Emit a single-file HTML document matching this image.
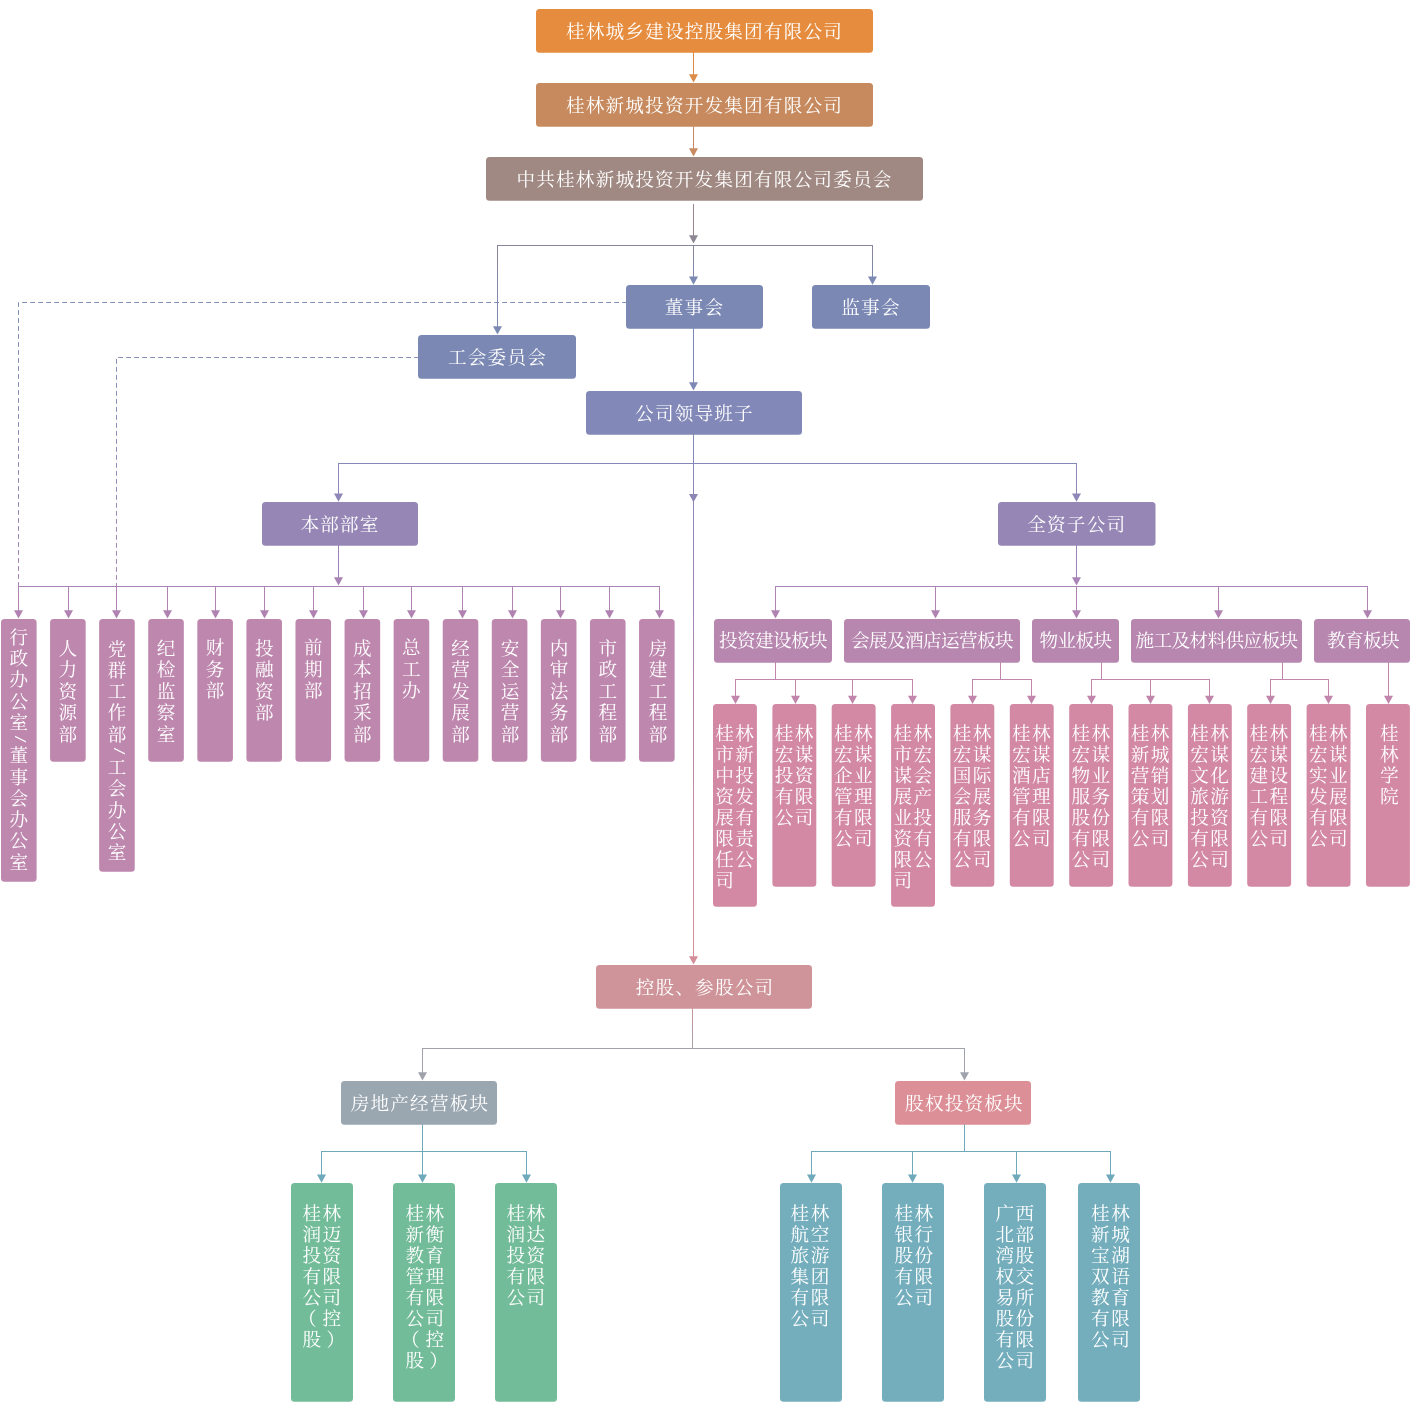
<!DOCTYPE html>
<html lang="zh-CN">
<head>
<meta charset="utf-8">
<title>组织架构</title>
<style>
html,body{margin:0;padding:0;background:#fff}
#w{position:relative;width:1410px;height:1420px;overflow:hidden;will-change:transform;font-family:"Liberation Serif","Noto Serif CJK SC",serif;color:#fff;font-weight:400}
#w svg{position:absolute;left:0;top:0}
.b{position:absolute;border-radius:3.5px;box-sizing:border-box;text-align:center;white-space:nowrap;overflow:hidden}
.h{font-size:18.6px;letter-spacing:1.2px;line-height:46px}
.c{font-size:18.6px;letter-spacing:-0.6px;line-height:44px}
.d{font-size:18.6px;line-height:21.5px;white-space:normal;padding:18.8px 8.3px 0 8.3px}
.d0{padding-top:7.9px;line-height:21.25px}
.d2{line-height:21.3px;padding-top:19.5px}
.d3{line-height:21.2px;padding-top:18.4px}
.d4{padding-top:18.5px}
.sl{display:block;height:12.2px;line-height:12.2px;font-family:"Liberation Mono",monospace;font-size:13.8px;transform:rotate(90deg);position:relative;left:-0.9px}
.p{font-size:18.6px;letter-spacing:1.4px;line-height:20.95px;white-space:normal;word-break:break-all;padding:20.3px 0 0 2.3px;text-align:left}
.p1{padding-left:14px;padding-right:10px}
.pl{position:relative;left:-4.5px}
.pr{position:relative;left:4px}
.g{font-size:18.6px;letter-spacing:1.5px;line-height:20.95px;white-space:normal;word-break:break-all;padding:21.3px 9.6px 0 11.4px;text-align:left}
</style>
</head>
<body>
<div id="w">
<svg width="1410" height="1420" viewBox="0 0 1410 1420" fill="none" stroke-width="1">
<defs><linearGradient id="gc" gradientUnits="userSpaceOnUse" x1="0" y1="463" x2="0" y2="960"><stop offset="0" stop-color="#8589B8"/><stop offset="0.08" stop-color="#8E86B6"/><stop offset="0.3" stop-color="#A483B4"/><stop offset="0.62" stop-color="#BF87A8"/><stop offset="1" stop-color="#DA8F97"/></linearGradient><linearGradient id="g2" gradientUnits="userSpaceOnUse" x1="0" y1="245" x2="0" y2="285"><stop offset="0" stop-color="#8A8598"/><stop offset="1" stop-color="#7A8BB5"/></linearGradient><linearGradient id="g3" gradientUnits="userSpaceOnUse" x1="0" y1="245" x2="0" y2="335"><stop offset="0" stop-color="#8A8598"/><stop offset="1" stop-color="#7A8BB5"/></linearGradient><linearGradient id="gd" gradientUnits="userSpaceOnUse" x1="0" y1="302" x2="0" y2="586"><stop offset="0" stop-color="#7E8DB6"/><stop offset="0.5" stop-color="#8A8BB7"/><stop offset="1" stop-color="#A985B5"/></linearGradient><linearGradient id="gk" gradientUnits="userSpaceOnUse" x1="0" y1="1008" x2="0" y2="1049"><stop offset="0" stop-color="#C9969C"/><stop offset="1" stop-color="#AAA0A8"/></linearGradient></defs>
<line x1="693.5" y1="52" x2="693.5" y2="78.6" stroke="#DC8B48"/>
<polygon points="689.0,74.3 698.0,74.3 693.5,82.6" fill="#DC8B48"/>
<line x1="693.5" y1="126" x2="693.5" y2="152.6" stroke="#C98A62"/>
<polygon points="689.0,148.3 698.0,148.3 693.5,156.6" fill="#C98A62"/>
<line x1="693.5" y1="204" x2="693.5" y2="240" stroke="#9B878A"/>
<polygon points="689.0,235.3 698.0,235.3 693.5,243.6" fill="#8F8796"/>
<line x1="497" y1="245.5" x2="873" y2="245.5" stroke="#8A8699"/>
<line x1="693.5" y1="245.5" x2="693.5" y2="280" stroke="url(#g2)"/>
<polygon points="689.0,276.5 698.0,276.5 693.5,284.8" fill="#7C8AB3"/>
<line x1="872.5" y1="245.5" x2="872.5" y2="280" stroke="url(#g2)"/>
<polygon points="868.0,276.5 877.0,276.5 872.5,284.8" fill="#7C8AB3"/>
<line x1="497.5" y1="245.5" x2="497.5" y2="330" stroke="url(#g3)"/>
<polygon points="493.0,326.2 502.0,326.2 497.5,334.5" fill="#7C8AB3"/>
<polyline points="627,302.5 18.5,302.5 18.5,586" stroke="url(#gd)" stroke-dasharray="4.8 3.2"/>
<polyline points="419,357.5 116.5,357.5 116.5,586" stroke="url(#gd)" stroke-dasharray="4.8 3.2"/>
<line x1="693.5" y1="328" x2="693.5" y2="386.6" stroke="#7F89B5"/>
<polygon points="689.0,382.3 698.0,382.3 693.5,390.6" fill="#7F89B5"/>
<line x1="693.5" y1="434" x2="693.5" y2="463.5" stroke="#8589B8"/>
<line x1="338" y1="463.5" x2="1077" y2="463.5" stroke="#8589B8"/>
<line x1="338.5" y1="463.5" x2="338.5" y2="497.8" stroke="#8E87B8"/>
<polygon points="334.0,493.5 343.0,493.5 338.5,501.8" fill="#8E87B8"/>
<line x1="1076.5" y1="463.5" x2="1076.5" y2="497.8" stroke="#8E87B8"/>
<polygon points="1072.0,493.5 1081.0,493.5 1076.5,501.8" fill="#8E87B8"/>
<polygon points="689.0,494.1 698.0,494.1 693.5,502.3" fill="#8E85B5"/>
<line x1="693.5" y1="463" x2="693.5" y2="958" stroke="url(#gc)"/>
<polygon points="689.0,956.3 698.0,956.3 693.5,964.6" fill="#D58E98"/>
<line x1="338.5" y1="545" x2="338.5" y2="581.6" stroke="#A083B6"/>
<polygon points="334.0,577.3 343.0,577.3 338.5,585.6" fill="#A982B6"/>
<line x1="18" y1="586.5" x2="660" y2="586.5" stroke="#A982B6"/>
<line x1="18.5" y1="586.5" x2="18.5" y2="614.6" stroke="#B083B3"/>
<polygon points="14.0,610.3 23.0,610.3 18.5,618.6" fill="#B083B3"/>
<line x1="68.5" y1="586.5" x2="68.5" y2="614.6" stroke="#B083B3"/>
<polygon points="64.0,610.3 73.0,610.3 68.5,618.6" fill="#B083B3"/>
<line x1="116.5" y1="586.5" x2="116.5" y2="614.6" stroke="#B083B3"/>
<polygon points="112.0,610.3 121.0,610.3 116.5,618.6" fill="#B083B3"/>
<line x1="167.5" y1="586.5" x2="167.5" y2="614.6" stroke="#B083B3"/>
<polygon points="163.0,610.3 172.0,610.3 167.5,618.6" fill="#B083B3"/>
<line x1="215.5" y1="586.5" x2="215.5" y2="614.6" stroke="#B083B3"/>
<polygon points="211.0,610.3 220.0,610.3 215.5,618.6" fill="#B083B3"/>
<line x1="264.5" y1="586.5" x2="264.5" y2="614.6" stroke="#B083B3"/>
<polygon points="260.0,610.3 269.0,610.3 264.5,618.6" fill="#B083B3"/>
<line x1="313.5" y1="586.5" x2="313.5" y2="614.6" stroke="#B083B3"/>
<polygon points="309.0,610.3 318.0,610.3 313.5,618.6" fill="#B083B3"/>
<line x1="363.5" y1="586.5" x2="363.5" y2="614.6" stroke="#B083B3"/>
<polygon points="359.0,610.3 368.0,610.3 363.5,618.6" fill="#B083B3"/>
<line x1="411.5" y1="586.5" x2="411.5" y2="614.6" stroke="#B083B3"/>
<polygon points="407.0,610.3 416.0,610.3 411.5,618.6" fill="#B083B3"/>
<line x1="462.5" y1="586.5" x2="462.5" y2="614.6" stroke="#B083B3"/>
<polygon points="458.0,610.3 467.0,610.3 462.5,618.6" fill="#B083B3"/>
<line x1="512.5" y1="586.5" x2="512.5" y2="614.6" stroke="#B083B3"/>
<polygon points="508.0,610.3 517.0,610.3 512.5,618.6" fill="#B083B3"/>
<line x1="560.5" y1="586.5" x2="560.5" y2="614.6" stroke="#B083B3"/>
<polygon points="556.0,610.3 565.0,610.3 560.5,618.6" fill="#B083B3"/>
<line x1="609.5" y1="586.5" x2="609.5" y2="614.6" stroke="#B083B3"/>
<polygon points="605.0,610.3 614.0,610.3 609.5,618.6" fill="#B083B3"/>
<line x1="659.5" y1="586.5" x2="659.5" y2="614.6" stroke="#B083B3"/>
<polygon points="655.0,610.3 664.0,610.3 659.5,618.6" fill="#B083B3"/>
<line x1="1076.5" y1="545" x2="1076.5" y2="581.6" stroke="#A083B6"/>
<polygon points="1072.0,577.3 1081.0,577.3 1076.5,585.6" fill="#A982B6"/>
<line x1="775" y1="586.5" x2="1368" y2="586.5" stroke="#A982B6"/>
<line x1="775.5" y1="586.5" x2="775.5" y2="614.6" stroke="#B083B3"/>
<polygon points="771.0,610.3 780.0,610.3 775.5,618.6" fill="#B083B3"/>
<line x1="935.5" y1="586.5" x2="935.5" y2="614.6" stroke="#B083B3"/>
<polygon points="931.0,610.3 940.0,610.3 935.5,618.6" fill="#B083B3"/>
<line x1="1076.5" y1="586.5" x2="1076.5" y2="614.6" stroke="#B083B3"/>
<polygon points="1072.0,610.3 1081.0,610.3 1076.5,618.6" fill="#B083B3"/>
<line x1="1218.5" y1="586.5" x2="1218.5" y2="614.6" stroke="#B083B3"/>
<polygon points="1214.0,610.3 1223.0,610.3 1218.5,618.6" fill="#B083B3"/>
<line x1="1367.5" y1="586.5" x2="1367.5" y2="614.6" stroke="#B083B3"/>
<polygon points="1363.0,610.3 1372.0,610.3 1367.5,618.6" fill="#B083B3"/>
<line x1="775.5" y1="662" x2="775.5" y2="679.5" stroke="#C285AC"/>
<line x1="735.0" y1="679.5" x2="913.0" y2="679.5" stroke="#C285AC"/>
<line x1="735.5" y1="679.5" x2="735.5" y2="700" stroke="#C285AC"/>
<polygon points="731.0,695.7 740.0,695.7 735.5,704" fill="#C285AC"/>
<line x1="795.5" y1="679.5" x2="795.5" y2="700" stroke="#C285AC"/>
<polygon points="791.0,695.7 800.0,695.7 795.5,704" fill="#C285AC"/>
<line x1="852.5" y1="679.5" x2="852.5" y2="700" stroke="#C285AC"/>
<polygon points="848.0,695.7 857.0,695.7 852.5,704" fill="#C285AC"/>
<line x1="912.5" y1="679.5" x2="912.5" y2="700" stroke="#C285AC"/>
<polygon points="908.0,695.7 917.0,695.7 912.5,704" fill="#C285AC"/>
<line x1="1000.5" y1="662" x2="1000.5" y2="679.5" stroke="#C285AC"/>
<line x1="972.0" y1="679.5" x2="1032.0" y2="679.5" stroke="#C285AC"/>
<line x1="972.5" y1="679.5" x2="972.5" y2="700" stroke="#C285AC"/>
<polygon points="968.0,695.7 977.0,695.7 972.5,704" fill="#C285AC"/>
<line x1="1031.5" y1="679.5" x2="1031.5" y2="700" stroke="#C285AC"/>
<polygon points="1027.0,695.7 1036.0,695.7 1031.5,704" fill="#C285AC"/>
<line x1="1101.5" y1="662" x2="1101.5" y2="679.5" stroke="#C285AC"/>
<line x1="1091.0" y1="679.5" x2="1210.0" y2="679.5" stroke="#C285AC"/>
<line x1="1091.5" y1="679.5" x2="1091.5" y2="700" stroke="#C285AC"/>
<polygon points="1087.0,695.7 1096.0,695.7 1091.5,704" fill="#C285AC"/>
<line x1="1150.5" y1="679.5" x2="1150.5" y2="700" stroke="#C285AC"/>
<polygon points="1146.0,695.7 1155.0,695.7 1150.5,704" fill="#C285AC"/>
<line x1="1209.5" y1="679.5" x2="1209.5" y2="700" stroke="#C285AC"/>
<polygon points="1205.0,695.7 1214.0,695.7 1209.5,704" fill="#C285AC"/>
<line x1="1282.5" y1="662" x2="1282.5" y2="679.5" stroke="#C285AC"/>
<line x1="1270.0" y1="679.5" x2="1329.0" y2="679.5" stroke="#C285AC"/>
<line x1="1270.5" y1="679.5" x2="1270.5" y2="700" stroke="#C285AC"/>
<polygon points="1266.0,695.7 1275.0,695.7 1270.5,704" fill="#C285AC"/>
<line x1="1328.5" y1="679.5" x2="1328.5" y2="700" stroke="#C285AC"/>
<polygon points="1324.0,695.7 1333.0,695.7 1328.5,704" fill="#C285AC"/>
<line x1="1388.5" y1="662" x2="1388.5" y2="700" stroke="#C285AC"/>
<polygon points="1384.0,695.7 1393.0,695.7 1388.5,704" fill="#C285AC"/>
<line x1="692.5" y1="1008" x2="692.5" y2="1048.5" stroke="url(#gk)"/>
<line x1="422" y1="1048.5" x2="965" y2="1048.5" stroke="#A0A3AC"/>
<line x1="422.5" y1="1048.5" x2="422.5" y2="1076.6" stroke="#A0A3AC"/>
<polygon points="418.0,1072.3 427.0,1072.3 422.5,1080.6" fill="#A0A3AC"/>
<line x1="964.5" y1="1048.5" x2="964.5" y2="1076.6" stroke="#A0A3AC"/>
<polygon points="960.0,1072.3 969.0,1072.3 964.5,1080.6" fill="#A0A3AC"/>
<line x1="422.5" y1="1124" x2="422.5" y2="1151.5" stroke="#6FA9BC"/>
<line x1="321.0" y1="1151.5" x2="527.0" y2="1151.5" stroke="#6FA9BC"/>
<line x1="321.5" y1="1151.5" x2="321.5" y2="1178.8" stroke="#6FA9BC"/>
<polygon points="317.0,1174.5 326.0,1174.5 321.5,1182.8" fill="#6FA9BC"/>
<line x1="422.5" y1="1151.5" x2="422.5" y2="1178.8" stroke="#6FA9BC"/>
<polygon points="418.0,1174.5 427.0,1174.5 422.5,1182.8" fill="#6FA9BC"/>
<line x1="526.5" y1="1151.5" x2="526.5" y2="1178.8" stroke="#6FA9BC"/>
<polygon points="522.0,1174.5 531.0,1174.5 526.5,1182.8" fill="#6FA9BC"/>
<line x1="964.5" y1="1124" x2="964.5" y2="1151.5" stroke="#6FA9BC"/>
<line x1="811.0" y1="1151.5" x2="1111.0" y2="1151.5" stroke="#6FA9BC"/>
<line x1="811.5" y1="1151.5" x2="811.5" y2="1178.8" stroke="#6FA9BC"/>
<polygon points="807.0,1174.5 816.0,1174.5 811.5,1182.8" fill="#6FA9BC"/>
<line x1="912.5" y1="1151.5" x2="912.5" y2="1178.8" stroke="#6FA9BC"/>
<polygon points="908.0,1174.5 917.0,1174.5 912.5,1182.8" fill="#6FA9BC"/>
<line x1="1016.5" y1="1151.5" x2="1016.5" y2="1178.8" stroke="#6FA9BC"/>
<polygon points="1012.0,1174.5 1021.0,1174.5 1016.5,1182.8" fill="#6FA9BC"/>
<line x1="1110.5" y1="1151.5" x2="1110.5" y2="1178.8" stroke="#6FA9BC"/>
<polygon points="1106.0,1174.5 1115.0,1174.5 1110.5,1182.8" fill="#6FA9BC"/>
<rect x="536" y="9" width="337" height="43.8" rx="3.5" fill="#E58C3E"/>
<rect x="536" y="83" width="337" height="43.8" rx="3.5" fill="#C68A5E"/>
<rect x="486" y="157" width="437" height="43.8" rx="3.5" fill="#A08983"/>
<rect x="626" y="285" width="137" height="43.8" rx="3.5" fill="#7A88B3"/>
<rect x="812" y="285" width="118" height="43.8" rx="3.5" fill="#7A88B3"/>
<rect x="418" y="335" width="158" height="43.8" rx="3.5" fill="#7A88B3"/>
<rect x="586" y="391" width="216" height="43.8" rx="3.5" fill="#8288B7"/>
<rect x="262" y="502" width="156" height="43.8" rx="3.5" fill="#9686B6"/>
<rect x="998" y="502" width="157.5" height="43.8" rx="3.5" fill="#9686B6"/>
<rect x="1.0" y="619" width="35.6" height="262.8" rx="3.5" fill="#BE87AE"/>
<rect x="50.08" y="619" width="35.6" height="142.8" rx="3.5" fill="#BE87AE"/>
<rect x="99.16" y="619" width="35.6" height="252.8" rx="3.5" fill="#BE87AE"/>
<rect x="148.24" y="619" width="35.6" height="142.8" rx="3.5" fill="#BE87AE"/>
<rect x="197.32" y="619" width="35.6" height="142.8" rx="3.5" fill="#BE87AE"/>
<rect x="246.4" y="619" width="35.6" height="142.8" rx="3.5" fill="#BE87AE"/>
<rect x="295.48" y="619" width="35.6" height="142.8" rx="3.5" fill="#BE87AE"/>
<rect x="344.56" y="619" width="35.6" height="142.8" rx="3.5" fill="#BE87AE"/>
<rect x="393.64" y="619" width="35.6" height="142.8" rx="3.5" fill="#BE87AE"/>
<rect x="442.72" y="619" width="35.6" height="142.8" rx="3.5" fill="#BE87AE"/>
<rect x="491.8" y="619" width="35.6" height="142.8" rx="3.5" fill="#BE87AE"/>
<rect x="540.88" y="619" width="35.6" height="142.8" rx="3.5" fill="#BE87AE"/>
<rect x="589.96" y="619" width="35.6" height="142.8" rx="3.5" fill="#BE87AE"/>
<rect x="639.04" y="619" width="35.6" height="142.8" rx="3.5" fill="#BE87AE"/>
<rect x="714" y="619" width="118" height="43.8" rx="3.5" fill="#B787B0"/>
<rect x="844" y="619" width="176" height="43.8" rx="3.5" fill="#B787B0"/>
<rect x="1032" y="619" width="87" height="43.8" rx="3.5" fill="#B787B0"/>
<rect x="1131" y="619" width="171" height="43.8" rx="3.5" fill="#B787B0"/>
<rect x="1314" y="619" width="96" height="43.8" rx="3.5" fill="#B787B0"/>
<rect x="713.0" y="704" width="43.9" height="202.8" rx="3.5" fill="#D389A3"/>
<rect x="772.4" y="704" width="43.9" height="182.8" rx="3.5" fill="#D389A3"/>
<rect x="831.7" y="704" width="43.9" height="182.8" rx="3.5" fill="#D389A3"/>
<rect x="891.1" y="704" width="43.9" height="202.8" rx="3.5" fill="#D389A3"/>
<rect x="950.4" y="704" width="43.9" height="182.8" rx="3.5" fill="#D389A3"/>
<rect x="1009.8" y="704" width="43.9" height="182.8" rx="3.5" fill="#D389A3"/>
<rect x="1069.2" y="704" width="43.9" height="182.8" rx="3.5" fill="#D389A3"/>
<rect x="1128.5" y="704" width="43.9" height="182.8" rx="3.5" fill="#D389A3"/>
<rect x="1187.9" y="704" width="43.9" height="182.8" rx="3.5" fill="#D389A3"/>
<rect x="1247.2" y="704" width="43.9" height="182.8" rx="3.5" fill="#D389A3"/>
<rect x="1306.6" y="704" width="43.9" height="182.8" rx="3.5" fill="#D389A3"/>
<rect x="1366.0" y="704" width="43.9" height="182.8" rx="3.5" fill="#D389A3"/>
<rect x="596" y="965" width="216" height="43.8" rx="3.5" fill="#CE9499"/>
<rect x="341" y="1081" width="156" height="43.8" rx="3.5" fill="#9AA6B0"/>
<rect x="895" y="1081" width="136" height="43.8" rx="3.5" fill="#DC8F96"/>
<rect x="291" y="1183" width="62" height="218.8" rx="3.5" fill="#73BC99"/>
<rect x="393" y="1183" width="62" height="218.8" rx="3.5" fill="#73BC99"/>
<rect x="495" y="1183" width="62" height="218.8" rx="3.5" fill="#73BC99"/>
<rect x="780" y="1183" width="62" height="218.8" rx="3.5" fill="#74AEBD"/>
<rect x="882" y="1183" width="62" height="218.8" rx="3.5" fill="#74AEBD"/>
<rect x="984" y="1183" width="62" height="218.8" rx="3.5" fill="#74AEBD"/>
<rect x="1078" y="1183" width="62" height="218.8" rx="3.5" fill="#74AEBD"/>
</svg>
<div class="b h" style="left:536px;top:9px;width:337px;height:44px">桂林城乡建设控股集团有限公司</div>
<div class="b h" style="left:536px;top:83px;width:337px;height:44px">桂林新城投资开发集团有限公司</div>
<div class="b h" style="left:486px;top:157px;width:437px;height:44px">中共桂林新城投资开发集团有限公司委员会</div>
<div class="b h" style="left:626px;top:285px;width:137px;height:44px">董事会</div>
<div class="b h" style="left:812px;top:285px;width:118px;height:44px">监事会</div>
<div class="b h" style="left:418.5px;top:335px;width:158px;height:44px">工会委员会</div>
<div class="b h" style="left:586.5px;top:391px;width:216px;height:44px">公司领导班子</div>
<div class="b h" style="left:262px;top:502px;width:156px;height:44px">本部部室</div>
<div class="b h" style="left:998px;top:502px;width:157.5px;height:44px">全资子公司</div>
<div class="b d d0" style="left:1.0px;top:619px;width:35.6px;height:263px">行政办公室<span class="sl">/</span>董事会办公室</div>
<div class="b d" style="left:50.08px;top:619px;width:35.6px;height:143px">人力资源部</div>
<div class="b d d2" style="left:99.16px;top:619px;width:35.6px;height:253px">党群工作部<span class="sl">/</span>工会办公室</div>
<div class="b d" style="left:148.24px;top:619px;width:35.6px;height:143px">纪检监察室</div>
<div class="b d d3" style="left:197.32px;top:619px;width:35.6px;height:143px">财务部</div>
<div class="b d d4" style="left:246.4px;top:619px;width:35.6px;height:143px">投融资部</div>
<div class="b d d3" style="left:295.48px;top:619px;width:35.6px;height:143px">前期部</div>
<div class="b d" style="left:344.56px;top:619px;width:35.6px;height:143px">成本招采部</div>
<div class="b d d3" style="left:393.64px;top:619px;width:35.6px;height:143px">总工办</div>
<div class="b d" style="left:442.72px;top:619px;width:35.6px;height:143px">经营发展部</div>
<div class="b d" style="left:492.2px;top:619px;width:35.6px;height:143px">安全运营部</div>
<div class="b d" style="left:541.28px;top:619px;width:35.6px;height:143px">内审法务部</div>
<div class="b d" style="left:589.96px;top:619px;width:35.6px;height:143px">市政工程部</div>
<div class="b d" style="left:640.34px;top:619px;width:35.6px;height:143px">房建工程部</div>
<div class="b c" style="left:714px;top:619px;width:118px;height:44px">投资建设板块</div>
<div class="b c" style="left:844px;top:619px;width:176px;height:44px">会展及酒店运营板块</div>
<div class="b c" style="left:1032px;top:619px;width:87px;height:44px">物业板块</div>
<div class="b c" style="left:1131px;top:619px;width:171px;height:44px">施工及材料供应板块</div>
<div class="b c" style="left:1315.0px;top:619px;width:96px;height:44px">教育板块</div>
<div class="b p" style="left:713.0px;top:704px;width:43.9px;height:203px">桂林市新中投资发展有限责任公司</div>
<div class="b p" style="left:772.4px;top:704px;width:43.9px;height:183px">桂林宏谋投资有限公司</div>
<div class="b p" style="left:831.7px;top:704px;width:43.9px;height:183px">桂林宏谋企业管理有限公司</div>
<div class="b p" style="left:891.1px;top:704px;width:43.9px;height:203px">桂林市宏谋会展产业投资有限公司</div>
<div class="b p" style="left:950.4px;top:704px;width:43.9px;height:183px">桂林宏谋国际会展服务有限公司</div>
<div class="b p" style="left:1009.8px;top:704px;width:43.9px;height:183px">桂林宏谋酒店管理有限公司</div>
<div class="b p" style="left:1069.2px;top:704px;width:43.9px;height:183px">桂林宏谋物业服务股份有限公司</div>
<div class="b p" style="left:1128.5px;top:704px;width:43.9px;height:183px">桂林新城营销策划有限公司</div>
<div class="b p" style="left:1187.9px;top:704px;width:43.9px;height:183px">桂林宏谋文化旅游投资有限公司</div>
<div class="b p" style="left:1247.2px;top:704px;width:43.9px;height:183px">桂林宏谋建设工程有限公司</div>
<div class="b p" style="left:1306.6px;top:704px;width:43.9px;height:183px">桂林宏谋实业发展有限公司</div>
<div class="b p p1" style="left:1366.0px;top:704px;width:43.9px;height:183px">桂林学院</div>
<div class="b h" style="left:597.0px;top:965px;width:216px;height:44px">控股、参股公司</div>
<div class="b h" style="left:342.0px;top:1081px;width:156px;height:44px">房地产经营板块</div>
<div class="b h" style="left:896.5px;top:1081px;width:136px;height:44px">股权投资板块</div>
<div class="b g" style="left:291px;top:1183px;width:62px;height:219px">桂林润迈投资有限公司<span class="pl">（</span>控股<span class="pr">）</span></div>
<div class="b g" style="left:394.0px;top:1183px;width:62px;height:219px">桂林新衡教育管理有限公司<span class="pl">（</span>控股<span class="pr">）</span></div>
<div class="b g" style="left:495px;top:1183px;width:62px;height:219px">桂林润达投资有限公司</div>
<div class="b g" style="left:779.2px;top:1183px;width:62px;height:219px">桂林航空旅游集团有限公司</div>
<div class="b g" style="left:883.0px;top:1183px;width:62px;height:219px">桂林银行股份有限公司</div>
<div class="b g" style="left:984px;top:1183px;width:62px;height:219px">广西北部湾股权交易所股份有限公司</div>
<div class="b g" style="left:1079.7px;top:1183px;width:62px;height:219px">桂林新城宝湖双语教育有限公司</div>
</div>
</body>
</html>
